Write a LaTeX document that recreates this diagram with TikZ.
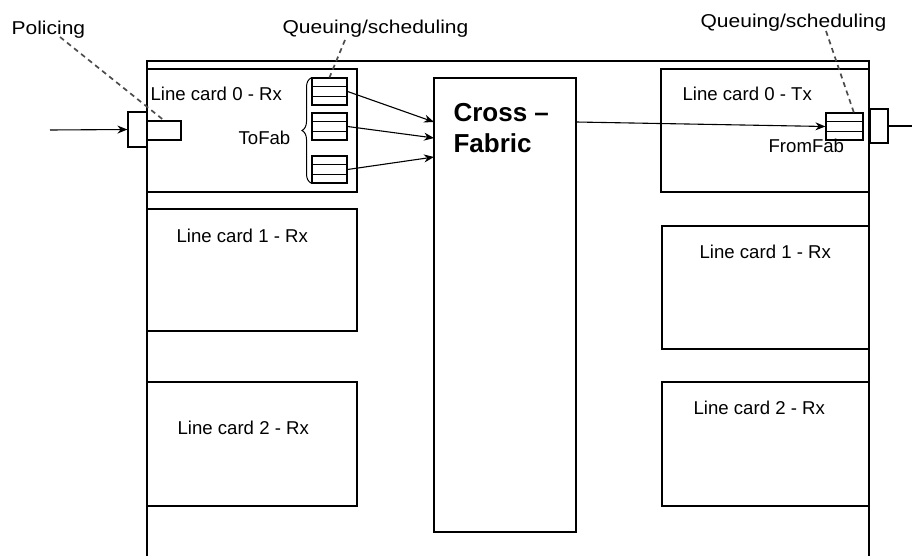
\documentclass[tikz,border=0pt]{standalone}
\usepackage{fontspec}
\setmainfont{Liberation Sans}
\newfontfamily\widefont[FakeStretch=1.13]{Liberation Sans}
\usetikzlibrary{arrows.meta,decorations.pathreplacing,calc}
\begin{document}
\begin{tikzpicture}[x=1pt,y=-1pt,line width=1.2pt,
  box/.style={draw,line width=1.2pt,inner sep=0pt},
  lbl/.style={inner sep=0pt,anchor=base west,font=\fontsize{18.6}{20}\selectfont},
  toplbl/.style={inner sep=0pt,anchor=base west,font=\widefont\fontsize{18.6}{20}\selectfont},
  fablbl/.style={inner sep=0pt,anchor=base west,font=\bfseries\fontsize{26}{28}\selectfont},
  arr/.style={-{Stealth[length=10pt,width=8pt]},line width=1.1pt},
  callout/.style={line width=1.7pt,dash pattern=on 5pt off 4pt,draw=black!70},
  queue/.style={box,minimum width=35pt,minimum height=27pt}
]
\useasboundingbox (0,0) rectangle (912,556);

% chassis
\draw (147,556) -- (147,61) -- (869,61) -- (869,556);

% line cards
\node[box,minimum width=210pt,minimum height=123pt] (lc0rx) at (252,130.5) {};
\node[box,minimum width=210pt,minimum height=122pt] (lc1rx) at (252,270) {};
\node[box,minimum width=210pt,minimum height=124pt] (lc2rx) at (252,444) {};
\node[box,minimum width=208pt,minimum height=123pt] (lc0tx) at (765,130.5) {};
\node[box,minimum width=207pt,minimum height=123pt] (lc1r) at (765.5,287.5) {};
\node[box,minimum width=207pt,minimum height=124pt] (lc2r) at (765.5,444) {};

% fabric
\node[box,minimum width=142pt,minimum height=454pt] (fab) at (505,305) {};
\node[fablbl] (fabt1) at (453,122) {Cross –};
\node[fablbl] (fabt2) at (453,153) {Fabric};

% labels
\node[lbl] (t0rx) at (150,101) {Line card 0 - Rx};
\node[lbl] (t1rx) at (176,242) {Line card 1 - Rx};
\node[lbl] (t2rx) at (177,434) {Line card 2 - Rx};
\node[lbl] (t0tx) at (682,101) {Line card 0 - Tx};
\node[lbl] (t1r) at (699,258) {Line card 1 - Rx};
\node[lbl] (t2r) at (693,414) {Line card 2 - Rx};
\node[lbl] (tofab) at (238,145) {ToFab};
\node[lbl] (fromfab) at (768,153) {FromFab};
\node[toplbl] (polt) at (11,35) {Policing};
\node[toplbl] (qlt) at (282,34) {Queuing/scheduling};
\node[toplbl] (qrt) at (700,28) {Queuing/scheduling};

% ports
\node[box,minimum width=19pt,minimum height=35pt] (inport) at (137.5,129.5) {};
\node[box,minimum width=34pt,minimum height=19pt] (policer) at (164,130.5) {};
\node[box,minimum width=18pt,minimum height=34pt] (outport) at (879,126) {};

% queues
\node[queue] (q1) at (329.5,91.5) {};
\node[queue] (q2) at (329.5,126.5) {};
\node[queue] (q3) at (329.5,169.5) {};
\node[queue,minimum width=37pt] (q4) at (844.5,126.5) {};
\foreach \q in {q1,q2,q3,q4}{
  \draw[line width=1.1pt] ($(\q.north west)!1/3!(\q.south west)$) -- ($(\q.north east)!1/3!(\q.south east)$);
  \draw[line width=1.1pt] ($(\q.north west)!2/3!(\q.south west)$) -- ($(\q.north east)!2/3!(\q.south east)$);
}

% brace
\draw[line width=1pt,decorate,decoration={brace,amplitude=9pt}] (311,183) -- (311,78);

% coordinates
\coordinate (inp) at (50,130);
\coordinate (outp) at (912,126);
\coordinate (f1) at (434,122);
\coordinate (f2) at (434,138);
\coordinate (f3) at (434,157);
\coordinate (fo) at (576,122);
\coordinate (pc) at (60,37);
\coordinate (qlc) at (345,40);
\coordinate (qrc) at (826,31);
\coordinate (q4t) at (854,113);

% connectors
\draw[arr] (inp) -- (inport.west);
\draw (outport.east) -- (outp);
\draw[arr] (q1.east) -- (f1);
\draw[arr] (q2.east) -- (f2);
\draw[arr] (q3.east) -- (f3);
\draw[arr] (fo) -- (q4.west);

% callouts
\draw[callout] (pc) -- (policer.north);
\draw[callout] (qlc) -- (q1.north);
\draw[callout] (qrc) -- (q4t);
\end{tikzpicture}
\end{document}
